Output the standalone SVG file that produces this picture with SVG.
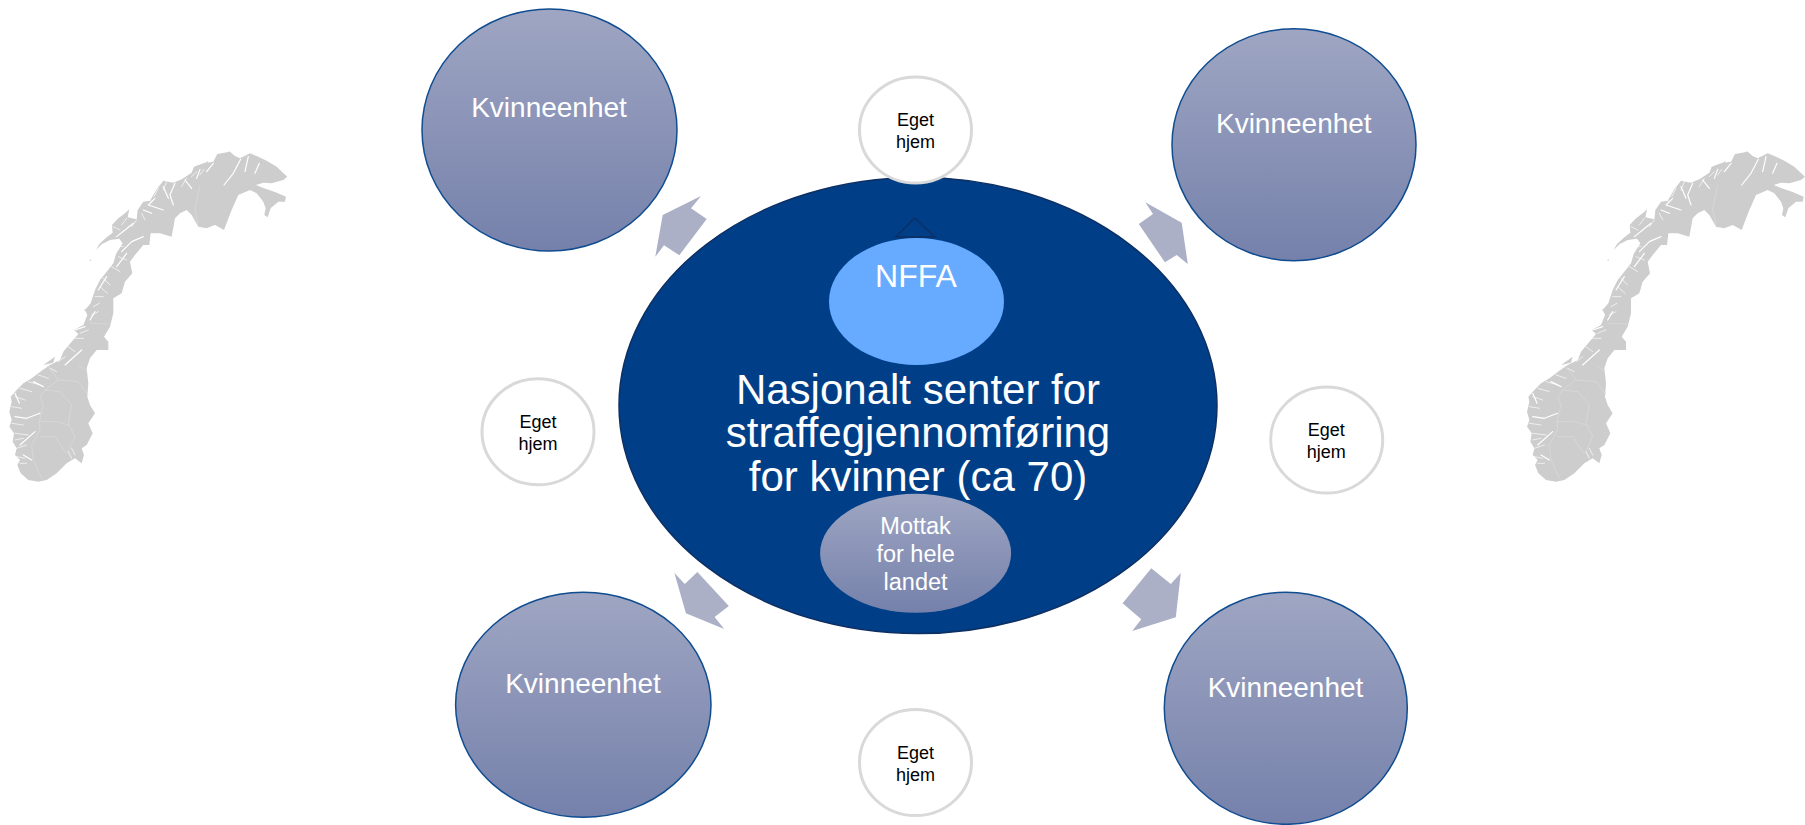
<svg xmlns="http://www.w3.org/2000/svg" xmlns:xlink="http://www.w3.org/1999/xlink" width="1805" height="825" viewBox="0 0 1805 825">
<style>
text{font-family:"Liberation Sans",Arial,sans-serif;text-anchor:middle}
.unit{fill:url(#g);stroke:#0f4c90;stroke-width:1.5}
.unit-t{fill:#fff;font-size:28px}
.home{fill:#fff;stroke:#d9d9d9;stroke-width:3}
.home-t{fill:#000;font-size:18px}
.arrow{fill:#abb0c6}
.main-t{fill:#fff;font-size:42px}
.land{fill:#cdcdcd}
.fjord{fill:none;stroke:#fff;stroke-width:3.5;stroke-linecap:round;stroke-linejoin:round}
.fine{fill:none;stroke:#fff;stroke-width:2;stroke-linecap:round}
.county{fill:none;stroke:#e0e0e0;stroke-width:1.5}
</style>
<defs>
<linearGradient id="g" x1="0" y1="0" x2="0" y2="1"><stop offset="0" stop-color="#9fa6c3"/><stop offset="1" stop-color="#7581ab"/></linearGradient>
<filter id="soft" x="-5%" y="-5%" width="110%" height="110%"><feGaussianBlur stdDeviation="0.35"/></filter>
<g id="norway" transform="scale(.3333)">
<path class="land" d="M115 1055L85 1050L62 1030L52 1005L60 990L45 975L50 955L38 935L42 910L28 890L35 870L28 845L35 815L32 800L50 780L70 760L95 745L125 722L150 705L180 690L190 665L215 635L235 612L222 600L250 585L262 555L255 540L272 520L285 480L300 450L320 425L340 400L348 372L368 340L358 326L330 330L305 343L288 360L298 342L320 322L338 308L336 285L355 265L375 250L388 238L383 262L410 268L413 240L430 215L450 212L470 178L490 152L520 158L545 148L575 128L582 110L610 100L640 95L652 72L690 65L705 78L720 85L750 70L775 80L800 92L830 110L862 140L850 150L815 160L790 158L768 165L790 174L825 186L858 200L855 215L835 215L812 235L803 262L793 255L797 235L790 215L770 190L750 180L715 195L695 240L672 300L645 285L620 295L595 290L575 255L560 240L540 250L525 265L515 320L480 310L452 310L448 345L430 345L405 375L390 395L397 430L375 455L365 490L340 505L340 550L330 590L312 620L325 635L325 660L290 660L270 685L260 715L265 760L262 800L270 825L285 850L265 880L278 910L260 945L245 955L252 975L245 1000L225 985L200 1000L170 1030L140 1050Z"/>
<path class="land" d="M600 108L625 92L618 108ZM650 90L690 62L668 92ZM268 392L272 388L274 392ZM252 540L258 536L258 544ZM130 705L165 680L160 698Z"/>
<path class="fjord" d="M722 88L700 130L672 165M745 80L735 125M778 100L765 130M640 100L620 125M600 118L590 145M555 150L575 175M525 160L510 195L520 225M490 170L505 205M465 205L445 225L490 240M430 240L455 250M400 280L375 300L350 320M430 320L395 335L365 365M380 370L350 410M320 440L295 480M285 545L270 570M255 590L225 600M245 660L195 705M130 770L100 755M120 850L80 865L45 860M105 905L60 945M95 990L70 975M58 820L45 790"/>
<path class="fine" d="M590 125L575 140M612 118L600 135M560 145L545 170M500 155L490 180M475 175L462 200M455 215L440 205M425 250L435 270M410 270L395 290M380 265L365 285M360 300L340 290M345 345L370 350M355 380L380 390M335 410L360 425M310 445L330 465M300 470L322 490M285 500L310 500M280 530L298 520M275 555L295 545M240 610L265 600M225 625L250 625M205 650L225 665M175 695L195 680M150 715L170 725M115 735L145 745M85 755L120 765M60 775L95 785M45 800L75 810M35 830L65 835M35 880L70 885M45 910L85 915M45 930L70 925M50 955L80 945M50 980L75 985M60 1000L80 1000M215 955L225 975M205 965L215 985"/>
<path class="county" d="M600 165L585 235L595 290M270 580L330 582M235 705L260 725M140 705L175 750L135 780L120 800L130 825L118 875L120 900L95 945L100 990M175 750L235 755L265 795M135 780L180 785L215 825L205 880L225 920L205 965M118 875L170 875L205 885M120 920L165 920L195 965L210 970M100 990L125 1045"/>
</g>
</defs>
<use id="map-left" xlink:href="#norway" transform="translate(0,130)" filter="url(#soft)"/>
<use id="map-right" xlink:href="#norway" transform="translate(1517.7,130)" filter="url(#soft)"/>
<g id="connectors">
<polygon class="arrow" points="701,196 691,208.3 706.7,219 679.3,255.3 664,245.3 655.3,256.7 662.7,215"/>
<polygon class="arrow" points="1145.3,202.3 1153,214 1138.8,224 1164.9,262.3 1176.7,255 1187.8,264 1181.7,222.7"/>
<polygon class="arrow" points="674.4,573 684.8,584 697.4,572 728.8,606 714.6,617 724.2,629 685.9,613.3"/>
<polygon class="arrow" points="1180.8,573 1170.8,584 1151.3,568.3 1122.6,603.3 1141.3,619.3 1132.2,631 1175.8,617.3"/>
</g>
<g id="unit-tl"><ellipse class="unit" cx="549.5" cy="130" rx="127.5" ry="121"/><text class="unit-t" x="549" y="117.3">Kvinneenhet</text></g>
<g id="unit-tr"><ellipse class="unit" cx="1294" cy="144.7" rx="122" ry="116"/><text class="unit-t" x="1293.8" y="132.7">Kvinneenhet</text></g>
<g id="unit-bl"><ellipse class="unit" cx="583.3" cy="704.8" rx="127.7" ry="112.5"/><text class="unit-t" x="583" y="692.7">Kvinneenhet</text></g>
<g id="unit-br"><ellipse class="unit" cx="1285.8" cy="708.3" rx="121.5" ry="116"/><text class="unit-t" x="1285.5" y="696.7">Kvinneenhet</text></g>
<g id="center">
<ellipse cx="918" cy="405.5" rx="299" ry="228" fill="#003f87" stroke="#0d2f63" stroke-width="1.5"/>
<text class="main-t" x="918" y="404.3">Nasjonalt senter for</text>
<text class="main-t" x="918" y="447.3">straffegjennomføring</text>
<text class="main-t" x="918" y="490.7">for kvinner (ca 70)</text>
</g>
<g id="home-top"><ellipse class="home" cx="915.5" cy="130" rx="56" ry="53"/><text class="home-t" x="915.5" y="126">Eget</text><text class="home-t" x="915.5" y="147.7">hjem</text></g>
<g id="home-left"><ellipse class="home" cx="538" cy="431.8" rx="56" ry="53"/><text class="home-t" x="538" y="428.3">Eget</text><text class="home-t" x="538" y="450">hjem</text></g>
<g id="home-right"><ellipse class="home" cx="1326.7" cy="440" rx="56" ry="53"/><text class="home-t" x="1326.2" y="435.7">Eget</text><text class="home-t" x="1326.2" y="458">hjem</text></g>
<g id="home-bottom"><ellipse class="home" cx="915.5" cy="762.5" rx="56" ry="53"/><text class="home-t" x="915.5" y="759.3">Eget</text><text class="home-t" x="915.5" y="781">hjem</text></g>
<g id="nffa">
<polygon points="914.6,218 896,237 935,237" fill="none" stroke="#0d2f63" stroke-width="1.5"/>
<ellipse cx="916.5" cy="301.5" rx="87.5" ry="63.5" fill="#66abff"/>
<text x="916" y="287" fill="#fff" font-size="32">NFFA</text>
</g>
<g id="mottak">
<ellipse cx="915.6" cy="553.3" rx="95.5" ry="59.5" fill="url(#g)"/>
<text x="915.6" y="534" fill="#fff" font-size="23.5">Mottak</text>
<text x="915.6" y="562" fill="#fff" font-size="23.5">for hele</text>
<text x="915.6" y="590" fill="#fff" font-size="23.5">landet</text>
</g>
</svg>
